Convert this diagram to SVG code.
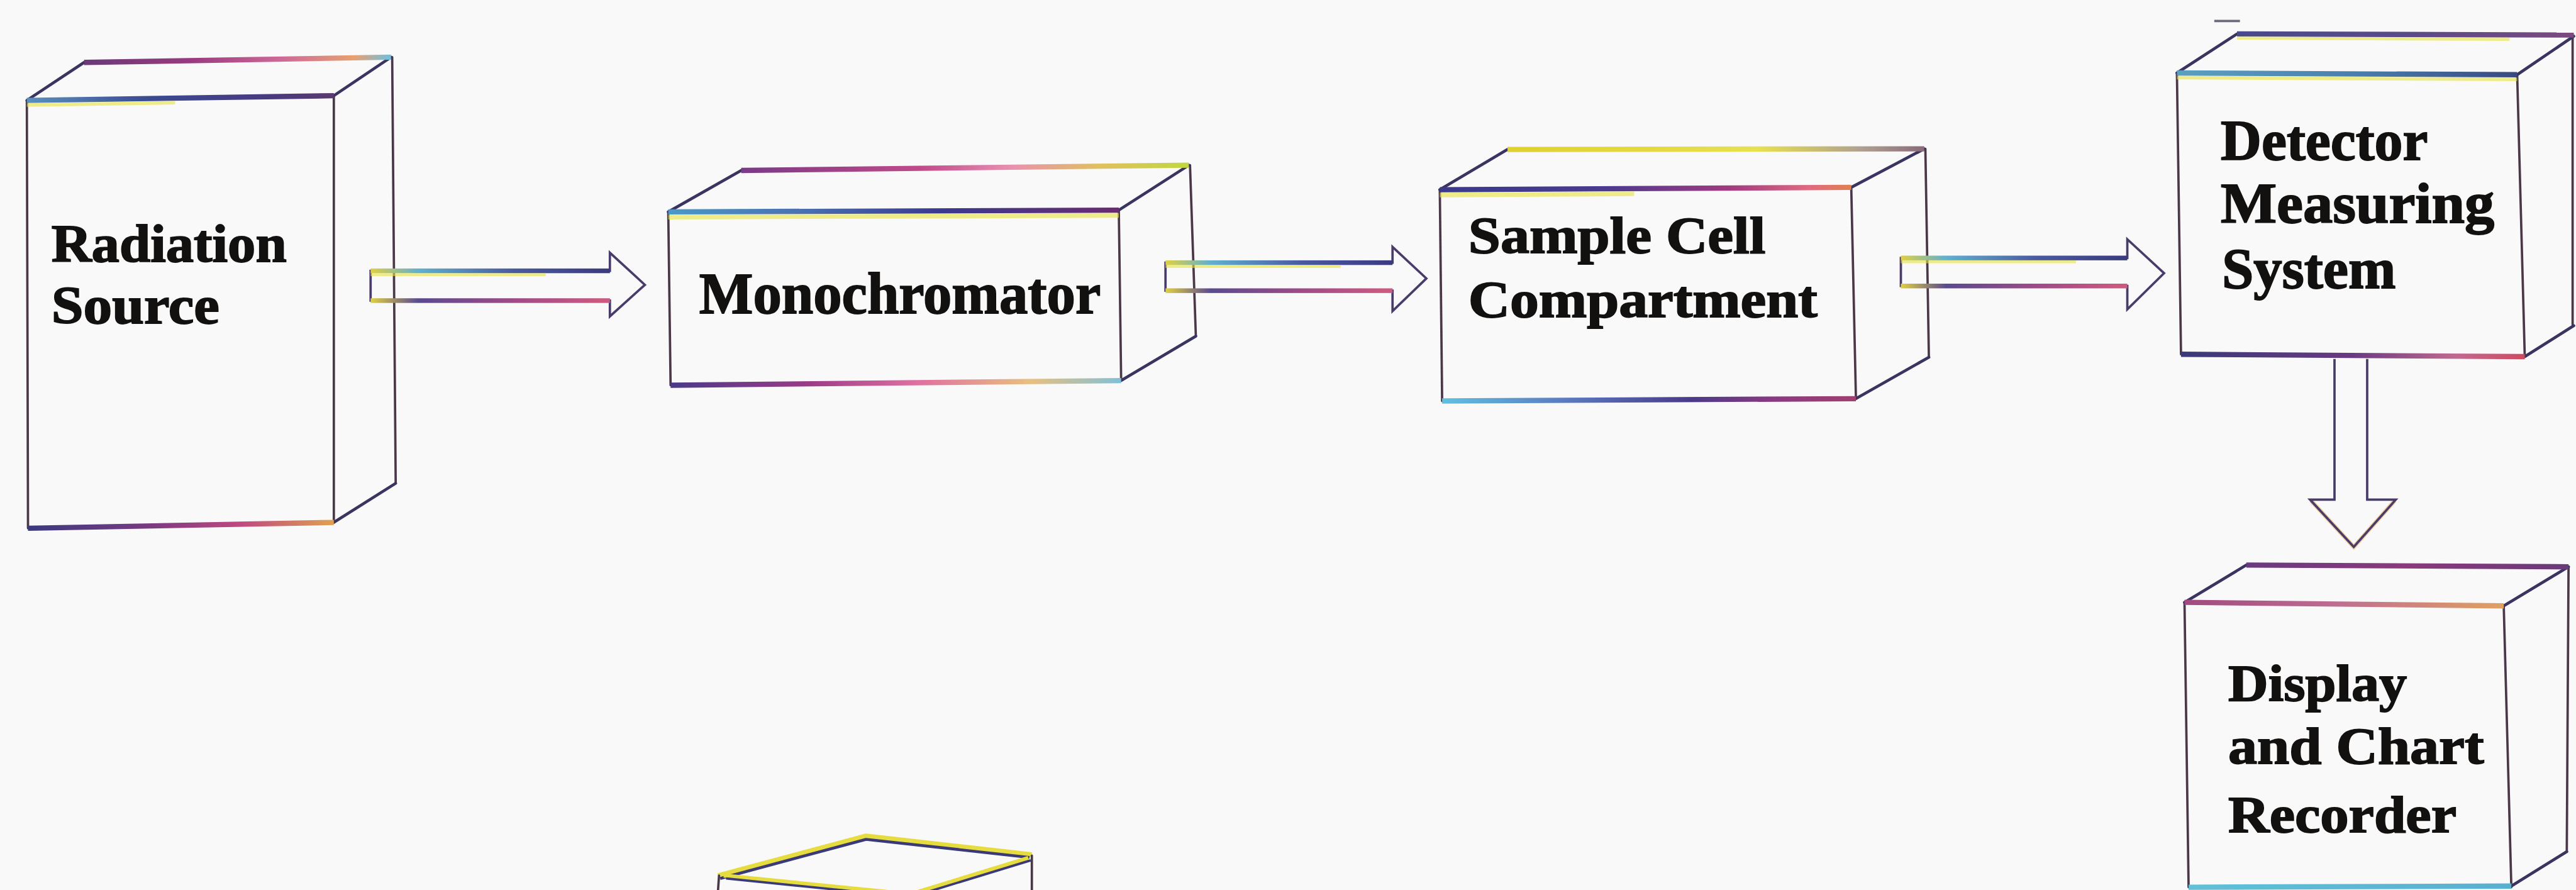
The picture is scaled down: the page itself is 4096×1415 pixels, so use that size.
<svg xmlns="http://www.w3.org/2000/svg" width="4096" height="1415" viewBox="0 0 4096 1415">
  <style>
    .v { fill: none; stroke: #4a3848; stroke-width: 4; stroke-linecap: round; }
    .d { fill: none; stroke: #3a3460; stroke-width: 5; stroke-linecap: round; }
    .fringe { fill: #e6e23c; opacity: 0.6; }
    .arrow { fill: none; stroke: #4a3c6a; stroke-width: 4; stroke-linejoin: miter; }
    .lbl { font-family: "Liberation Serif", "Times New Roman", serif; font-weight: bold; fill: #131110; stroke: #131110; stroke-width: 2; }
  </style>
  <defs>
    <!-- colour-fringed edge bands (horizontal gradients) -->
    <linearGradient id="b1-back"><stop offset="0" stop-color="#6a3a78"/><stop offset=".35" stop-color="#9a3a80"/><stop offset=".65" stop-color="#d06a98"/><stop offset=".88" stop-color="#e8a070"/><stop offset="1" stop-color="#70c0e0"/></linearGradient>
    <linearGradient id="b1-front"><stop offset="0" stop-color="#5a90c0"/><stop offset=".4" stop-color="#3a4a90"/><stop offset=".8" stop-color="#4a3a80"/><stop offset="1" stop-color="#5a3a70"/></linearGradient>
    <linearGradient id="b1-bot"><stop offset="0" stop-color="#3a3a80"/><stop offset=".4" stop-color="#7a3a80"/><stop offset=".7" stop-color="#c04a80"/><stop offset="1" stop-color="#e0a050"/></linearGradient>

    <linearGradient id="b2-back"><stop offset="0" stop-color="#7a3a88"/><stop offset=".4" stop-color="#c04a8a"/><stop offset=".6" stop-color="#e890b0"/><stop offset=".8" stop-color="#e0c060"/><stop offset="1" stop-color="#c0d840"/></linearGradient>
    <linearGradient id="b2-front"><stop offset="0" stop-color="#4a9ac8"/><stop offset=".3" stop-color="#4a70b0"/><stop offset=".6" stop-color="#3a3a90"/><stop offset="1" stop-color="#6a2a70"/></linearGradient>
    <linearGradient id="b2-bot"><stop offset="0" stop-color="#4a3a88"/><stop offset=".3" stop-color="#9a3a88"/><stop offset=".55" stop-color="#e070a0"/><stop offset=".8" stop-color="#e8c080"/><stop offset="1" stop-color="#80c0d8"/></linearGradient>

    <linearGradient id="b3-back"><stop offset="0" stop-color="#e0d030"/><stop offset=".6" stop-color="#e8e050"/><stop offset=".85" stop-color="#b0a090"/><stop offset="1" stop-color="#8a6a7a"/></linearGradient>
    <linearGradient id="b3-front"><stop offset="0" stop-color="#3a3a8a"/><stop offset=".4" stop-color="#4a3a90"/><stop offset=".7" stop-color="#a03a80"/><stop offset=".9" stop-color="#e06a80"/><stop offset="1" stop-color="#e08050"/></linearGradient>
    <linearGradient id="b3-bot"><stop offset="0" stop-color="#60c0e0"/><stop offset=".3" stop-color="#5a7ac0"/><stop offset=".6" stop-color="#4a3a88"/><stop offset=".8" stop-color="#8a3a80"/><stop offset="1" stop-color="#a04070"/></linearGradient>

    <linearGradient id="b4-back"><stop offset="0" stop-color="#4a4a8a"/><stop offset=".5" stop-color="#5a4a88"/><stop offset="1" stop-color="#7a4a80"/></linearGradient>
    <linearGradient id="b4-front"><stop offset="0" stop-color="#5aa0c0"/><stop offset=".5" stop-color="#4a80b0"/><stop offset="1" stop-color="#3a4a80"/></linearGradient>
    <linearGradient id="b4-bot"><stop offset="0" stop-color="#3a3a7a"/><stop offset=".5" stop-color="#6a3a80"/><stop offset=".8" stop-color="#c06a90"/><stop offset="1" stop-color="#d04a60"/></linearGradient>

    <linearGradient id="b5-back"><stop offset="0" stop-color="#6a3a80"/><stop offset=".5" stop-color="#8a3a7a"/><stop offset="1" stop-color="#6a3a7a"/></linearGradient>
    <linearGradient id="b5-front"><stop offset="0" stop-color="#a04a80"/><stop offset=".5" stop-color="#c07090"/><stop offset="1" stop-color="#e0a060"/></linearGradient>
    <linearGradient id="b5-bot"><stop offset="0" stop-color="#60c0d8"/><stop offset="1" stop-color="#58b0d0"/></linearGradient>

    <linearGradient id="shaft-top"><stop offset="0" stop-color="#e0d040"/><stop offset=".2" stop-color="#60b0d0"/><stop offset=".6" stop-color="#4a5aa0"/><stop offset="1" stop-color="#3a3a80"/></linearGradient>
    <linearGradient id="shaft-bot"><stop offset="0" stop-color="#e0d040"/><stop offset=".2" stop-color="#5a4a90"/><stop offset=".6" stop-color="#a04a88"/><stop offset="1" stop-color="#d05a80"/></linearGradient>
  </defs>

  <rect width="4096" height="1415" fill="#f9f9f9"/>

  <g transform="scale(0.928)">
    <!-- Radiation Source -->
    <g id="radiation-source">
      <line class="v" x1="46" y1="172" x2="48" y2="905"/>
      <line class="v" x1="572" y1="164" x2="572" y2="895"/>
      <line class="v" x1="672" y1="98" x2="678" y2="828"/>
      <line class="d" x1="46" y1="172" x2="144" y2="107"/>
      <line class="d" x1="572" y1="164" x2="670" y2="98"/>
      <line class="d" x1="572" y1="895" x2="678" y2="828"/>
      <polygon fill="url(#b1-back)" points="144,102.5 670,93.5 670,102.5 144,111.5"/>
      <polygon fill="url(#b1-front)" points="46,167.5 572,159.5 572,168.5 46,176.5"/>
      <polygon class="fringe" points="46,177 300,173 300,179 46,183"/>
      <polygon fill="url(#b1-bot)" points="48,900.5 572,890.5 572,899.5 48,909.5"/>
      <text class="lbl" font-size="91" x="88" y="448" textLength="403" lengthAdjust="spacingAndGlyphs">Radiation</text>
      <text class="lbl" font-size="91" x="88" y="554" textLength="288" lengthAdjust="spacingAndGlyphs">Source</text>
    </g>

    <!-- Monochromator -->
    <g id="monochromator">
      <line class="v" x1="1145" y1="363" x2="1149" y2="660"/>
      <line class="v" x1="1917" y1="360" x2="1921" y2="652"/>
      <line class="v" x1="2039" y1="283" x2="2049" y2="576"/>
      <line class="d" x1="1145" y1="363" x2="1270" y2="292"/>
      <line class="d" x1="1917" y1="360" x2="2037" y2="283"/>
      <line class="d" x1="1921" y1="652" x2="2049" y2="576"/>
      <polygon fill="url(#b2-back)" points="1270,287.5 2037,278.5 2037,287.5 1270,296.5"/>
      <polygon fill="url(#b2-front)" points="1145,358.5 1917,355.5 1917,364.5 1145,367.5"/>
      <polygon class="fringe" points="1145,368 1917,365 1917,373 1145,376"/>
      <polygon fill="url(#b2-bot)" points="1149,655.5 1921,647.5 1921,656.5 1149,664.5"/>
      <text class="lbl" font-size="100" x="1198" y="537" textLength="688" lengthAdjust="spacingAndGlyphs">Monochromator</text>
    </g>

    <!-- Sample Cell Compartment -->
    <g id="sample-cell">
      <line class="v" x1="2467" y1="325" x2="2471" y2="687"/>
      <line class="v" x1="3172" y1="321" x2="3180" y2="683"/>
      <line class="v" x1="3299" y1="255" x2="3305" y2="612"/>
      <line class="d" x1="2467" y1="325" x2="2583" y2="256"/>
      <line class="d" x1="3172" y1="321" x2="3297" y2="255"/>
      <line class="d" x1="3180" y1="683" x2="3305" y2="612"/>
      <polygon fill="url(#b3-back)" points="2583,251.5 3297,250.5 3297,259.5 2583,260.5"/>
      <polygon fill="url(#b3-front)" points="2467,320.5 3172,316.5 3172,325.5 2467,329.5"/>
      <polygon class="fringe" points="2467,330 2800,328 2800,336 2467,338"/>
      <polygon fill="url(#b3-bot)" points="2471,682.5 3180,678.5 3180,687.5 2471,691.5"/>
      <text class="lbl" font-size="90" x="2516" y="433" textLength="509" lengthAdjust="spacingAndGlyphs">Sample Cell</text>
      <text class="lbl" font-size="90" x="2516" y="543" textLength="598" lengthAdjust="spacingAndGlyphs">Compartment</text>
    </g>

    <!-- Detector Measuring System -->
    <g id="detector">
      <line x1="3794" y1="36" x2="3838" y2="36" stroke="#6a6a7a" stroke-width="4"/>
      <line class="v" x1="3730" y1="125" x2="3737" y2="607"/>
      <line class="v" x1="4313" y1="128" x2="4326" y2="611"/>
      <line class="v" x1="4408" y1="60" x2="4408" y2="556"/>
      <line class="d" x1="3730" y1="125" x2="3833" y2="58"/>
      <line class="d" x1="4313" y1="128" x2="4410" y2="62"/>
      <line class="d" x1="4326" y1="611" x2="4410" y2="558"/>
      <polygon fill="url(#b4-back)" points="3833,53.5 4410,55.5 4410,64.5 3833,62.5"/>
      <polygon class="fringe" points="3833,63 4300,65 4300,70 3833,68"/>
      <polygon fill="url(#b4-front)" points="3730,120.5 4313,123.5 4313,132.5 3730,129.5"/>
      <polygon class="fringe" points="3730,130 4313,133 4313,139 3730,136"/>
      <polygon fill="url(#b4-bot)" points="3737,602.5 4326,606.5 4326,615.5 3737,611.5"/>
      <text class="lbl" font-size="97" x="3805" y="274" textLength="355" lengthAdjust="spacingAndGlyphs">Detector</text>
      <text class="lbl" font-size="97" x="3805" y="382" textLength="469" lengthAdjust="spacingAndGlyphs">Measuring</text>
      <text class="lbl" font-size="97" x="3807" y="493" textLength="298" lengthAdjust="spacingAndGlyphs">System</text>
    </g>

    <!-- Display and Chart Recorder -->
    <g id="display">
      <line class="v" x1="3743" y1="1032" x2="3750" y2="1520"/>
      <line class="v" x1="4290" y1="1038" x2="4303" y2="1520"/>
      <line class="v" x1="4401" y1="971" x2="4398" y2="1459"/>
      <line class="d" x1="3743" y1="1032" x2="3849" y2="968"/>
      <line class="d" x1="4290" y1="1038" x2="4401" y2="971"/>
      <line class="d" x1="4303" y1="1518" x2="4398" y2="1459"/>
      <polygon fill="url(#b5-back)" points="3849,963.5 4401,966.5 4401,975.5 3849,972.5"/>
      <polygon fill="url(#b5-front)" points="3743,1027.5 4290,1033.5 4290,1042.5 3743,1036.5"/>
      <polygon fill="url(#b5-bot)" points="3750,1515.5 4303,1513.5 4303,1522.5 3750,1524.5"/>
      <text class="lbl" font-size="89" x="3818" y="1200" textLength="306" lengthAdjust="spacingAndGlyphs">Display</text>
      <text class="lbl" font-size="89" x="3818" y="1308" textLength="438" lengthAdjust="spacingAndGlyphs">and Chart</text>
      <text class="lbl" font-size="89" x="3818" y="1426" textLength="391" lengthAdjust="spacingAndGlyphs">Recorder</text>
    </g>

    <!-- box cut off by the bottom edge -->
    <g id="lower-box">
      <polyline points="1230,1500 1484,1432 1768,1464" fill="none" stroke="#e6dc40" stroke-width="8" stroke-linejoin="round"/>
      <polyline points="1234,1505 1484,1438 1764,1469" fill="none" stroke="#3a3a78" stroke-width="5" stroke-linejoin="round"/>
      <polyline points="1240,1500 1560,1532 1762,1470" fill="none" stroke="#e6dc40" stroke-width="7" stroke-linejoin="round"/>
      <polyline points="1244,1505 1560,1537 1766,1474" fill="none" stroke="#3a3a78" stroke-width="4" stroke-linejoin="round"/>
      <line class="v" x1="1232" y1="1500" x2="1230" y2="1530"/>
      <line class="v" x1="1768" y1="1466" x2="1768" y2="1530"/>
    </g>

    <!-- connectors -->
    <g id="connectors">
      <path class="arrow" d="M635,464 H1045 V433 L1105,488 L1045,542 V515 H635 Z"/>
      <rect x="635" y="460" width="410" height="8" fill="url(#shaft-top)"/>
      <rect x="635" y="468" width="300" height="5" class="fringe"/>
      <rect x="635" y="511" width="410" height="8" fill="url(#shaft-bot)"/>

      <path class="arrow" d="M1997,450 H2386 V423 L2444,477 L2386,533 V498 H1997 Z"/>
      <rect x="1997" y="446" width="389" height="8" fill="url(#shaft-top)"/>
      <rect x="1997" y="454" width="300" height="5" class="fringe"/>
      <rect x="1997" y="494" width="389" height="8" fill="url(#shaft-bot)"/>

      <path class="arrow" d="M3257,442 H3645 V410 L3708,468 L3645,530 V490 H3257 Z"/>
      <rect x="3257" y="438" width="388" height="8" fill="url(#shaft-top)"/>
      <rect x="3257" y="446" width="300" height="5" class="fringe"/>
      <rect x="3257" y="486" width="388" height="8" fill="url(#shaft-bot)"/>

      <path d="M3960,858 L4033,937 L4103,858" fill="none" stroke="#e8b060" stroke-width="7" opacity="0.6"/>
      <path class="arrow" d="M4000,615 V856 H3958 L4033,937 L4105,856 H4056 V615"/>
    </g>
  </g>
</svg>
